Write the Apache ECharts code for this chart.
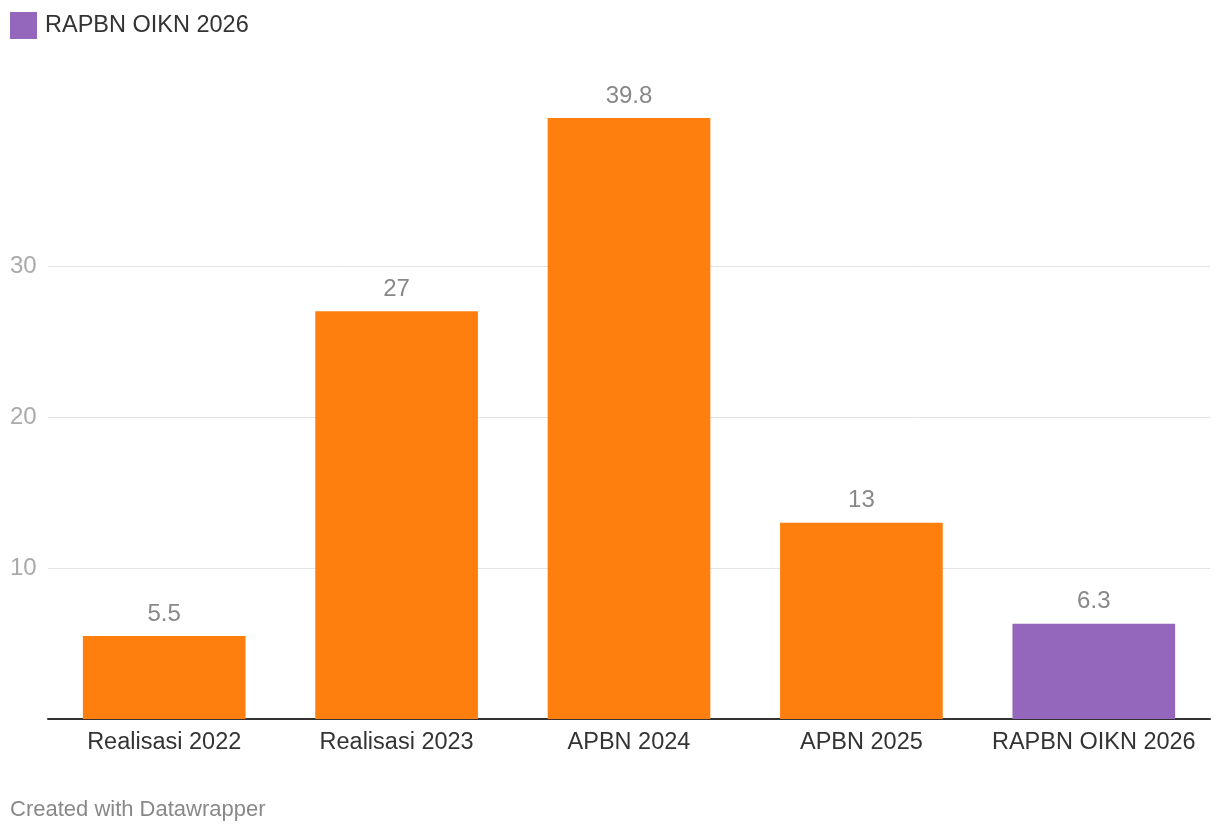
<!DOCTYPE html>
<html>
<head>
<meta charset="utf-8">
<script src="https://cdn.jsdelivr.net/npm/echarts@6/dist/echarts.min.js"></script>
<style>
html,body{margin:0;padding:0;background:#fff;}
#chart{width:1220px;height:832px;}
</style>
</head>
<body>
<div id="chart"></div>
<script>
var categories = ['Realisasi 2022', 'Realisasi 2023', 'APBN 2024', 'APBN 2025', 'RAPBN OIKN 2026'];
var otherValues = [5.5, 27, 39.8, 13, '-'];
var raphnValues = ['-', '-', '-', '-', 6.3];
var yTicks = [0, 10, 20, 30, 40];

var FONT = '"Liberation Sans", Arial, Helvetica, sans-serif';
var chart = echarts.init(document.getElementById('chart'), null, {renderer: 'canvas'});
var labelOpt = {show: true, position: 'top', distance: 10, color: '#888', fontSize: 24, fontFamily: FONT};
chart.setOption({
  animation: false,
  textStyle: {fontFamily: FONT},
  legend: {
    data: ['RAPBN OIKN 2026'],
    left: 10, top: 12, padding: 0,
    icon: 'rect', itemWidth: 27, itemHeight: 27,
    textStyle: {color: '#333', fontSize: 23.5, fontFamily: FONT, padding: [0, 0, 0, 3]},
    selectedMode: false
  },
  grid: {left: 48, right: 10, top: 115, bottom: 113, containLabel: false},
  xAxis: {
    type: 'category',
    data: categories,
    axisLine: {show: true, lineStyle: {color: '#333', width: 2}},
    axisTick: {show: false},
    axisLabel: {color: '#333', fontSize: 23.5, fontFamily: FONT, margin: 12, interval: 0}
  },
  yAxis: {
    type: 'value',
    min: yTicks[0], max: yTicks[yTicks.length - 1], interval: 10,
    axisLine: {show: false},
    axisTick: {show: false},
    axisLabel: {
      color: '#aaa', fontSize: 24, fontFamily: FONT, align: 'left', margin: 38,
      formatter: function (v) { return (v === 0 || v === 40) ? '' : String(v); }
    },
    splitLine: {show: true, lineStyle: {color: ['transparent', '#e3e3e3', '#e3e3e3', '#e3e3e3', 'transparent'], width: 1}}
  },
  series: [
    {
      name: 'Lainnya', type: 'bar', stack: 'a', data: otherValues,
      barCategoryGap: '30%',
      itemStyle: {color: '#ff7f0e'},
      label: labelOpt
    },
    {
      name: 'RAPBN OIKN 2026', type: 'bar', stack: 'a', data: raphnValues,
      barCategoryGap: '30%',
      itemStyle: {color: '#9467bd'},
      label: labelOpt
    }
  ],
  graphic: [{
    type: 'text', left: 10, top: 799,
    style: {text: 'Created with Datawrapper', fill: '#888', fontSize: 22, fontFamily: FONT}
  }]
});
</script>
</body>
</html>
